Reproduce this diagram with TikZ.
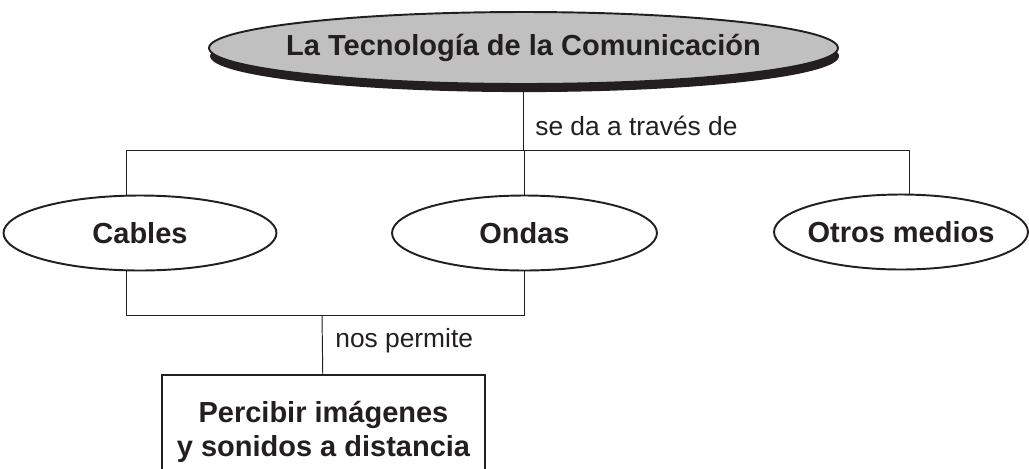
\documentclass[tikz,border=0pt]{standalone}
\usepackage{fontspec}
\setmainfont{Liberation Sans}
\usetikzlibrary{shapes.geometric,shadows,positioning}
\pgfdeclarelayer{back}
\pgfsetlayers{back,main}
\definecolor{grisfondo}{RGB}{192,192,192}
\definecolor{tinta}{RGB}{35,31,32}
\tikzset{
  titulo/.style={ellipse, draw=tinta, line width=1.1pt, fill=grisfondo,
    inner xsep=-0.6cm, inner ysep=0pt,
    minimum width=12.58cm, minimum height=1.44cm, text=tinta,
    font=\bfseries\fontsize{16.5pt}{19.5pt}\selectfont,
    drop shadow={shadow xshift=0.6pt, shadow yshift=-4.6pt, fill=tinta, opacity=1}},
  medio/.style={ellipse, draw=tinta, line width=1.1pt, fill=white,
    inner xsep=-0.3cm, inner ysep=0pt,
    minimum height=1.5cm, text=tinta, font=\bfseries\fontsize{16.5pt}{19.5pt}\selectfont},
  caja/.style={rectangle, draw=tinta, line width=1.4pt, fill=white, align=center,
    minimum width=6.46cm, minimum height=2.28cm, text=tinta,
    font=\bfseries\fontsize{16.5pt}{19.5pt}\selectfont},
  etiqueta/.style={anchor=base west, inner sep=0pt, text=tinta,
    font=\fontsize{15pt}{18pt}\selectfont},
  conector/.style={draw=tinta, line width=0.55pt}
}
\begin{document}
\begin{tikzpicture}[x=0.02cm, y=-0.02cm]
  \useasboundingbox (0,0) rectangle (1029,468);
  \clip (0,0) rectangle (1029,468);

  % conceptos
  \node[titulo] (tec) at (523.5,48) {La Tecnología de la Comunicación};
  \node[medio, minimum width=5.46cm] (cab) at (140,233) {Cables};
  \node[medio, minimum width=5.3cm] (ond) at (524.5,233) {Ondas};
  \node[medio, minimum width=5.08cm] (otr) at (901,232) {Otros medios};
  \node[caja] (perc) at (323.5,432) {Percibir imágenes\\y sonidos a distancia};

  % uniones
  \coordinate (izq) at (126,150);
  \coordinate (der) at (909,150);
  \coordinate (abj) at (322,315);
  \begin{pgfonlayer}{back}
    \draw[conector] (tec) -- (tec |- izq);
    \draw[conector] (cab -| izq) -- (izq) -- (der) -- (der |- otr);
    \draw[conector] (ond) -- (ond |- izq);
    \draw[conector] (cab -| izq) -- (abj -| izq) -- (abj -| ond) -- (ond);
    \draw[conector] (abj) -- (perc);
  \end{pgfonlayer}

  % palabras de enlace
  \node[etiqueta] (seda) at (535,135) {se da a través de};
  \node[etiqueta] (nos) at (335,347) {nos permite};
\end{tikzpicture}
\end{document}
